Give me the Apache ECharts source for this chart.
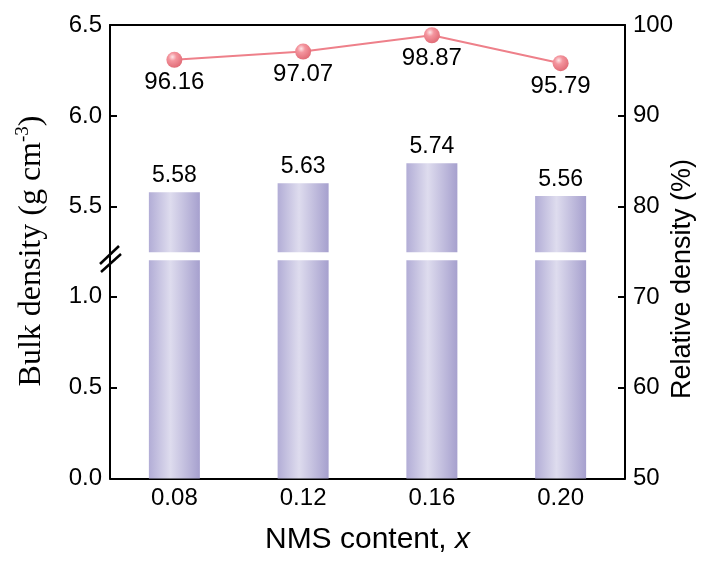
<!DOCTYPE html>
<html>
<head>
<meta charset="utf-8">
<script src="https://cdn.jsdelivr.net/npm/echarts@6/dist/echarts.min.js"></script>
<style>
  html, body { margin: 0; padding: 0; background: #ffffff; }
  #chart { width: 713px; height: 565px; }
</style>
</head>
<body>
<div id="chart"></div>
<script>
// NMS content (x) and the measured densities
const categories = ['0.08', '0.12', '0.16', '0.20'];
const bulkDensity = [5.58, 5.63, 5.74, 5.56];          // g cm^-3
const relativeDensity = [96.16, 97.07, 98.87, 95.79];  // %

// Broken left axis: upper and lower segments
const upperRange = [5.25, 6.5];
const lowerRange = [0, 1.2];
const upperTicks = [5.5, 6.0, 6.5];
const lowerTicks = [0.0, 0.5, 1.0];
const relRange = [50, 100];
const relInterval = 10;

// Plot frame geometry
const frame = { left: 110, right: 625, top: 25, bottom: 478.5 };
const breakGap = 8;
const unitPx = (frame.bottom - frame.top - breakGap) /
  ((upperRange[1] - upperRange[0]) + (lowerRange[1] - lowerRange[0]));
const upperH = (upperRange[1] - upperRange[0]) * unitPx;
const lowerH = (lowerRange[1] - lowerRange[0]) * unitPx;
const plotW = frame.right - frame.left;
const breakY = frame.top + upperH;

const SANS = 'Liberation Sans, Arial, sans-serif';
const SERIF = 'Liberation Serif, Times New Roman, serif';
const black = '#000000';
const axisLine = { show: true, lineStyle: { color: black, width: 2 } };

const barFill = {
  type: 'linear', x: 0, y: 0, x2: 1, y2: 0,
  colorStops: [
    { offset: 0, color: '#b2add6' },
    { offset: 0.42, color: '#dedcee' },
    { offset: 1, color: '#a6a0ce' }
  ]
};

const ballFill = {
  type: 'radial', x: 0.38, y: 0.32, r: 0.7,
  colorStops: [
    { offset: 0, color: '#fde6e8' },
    { offset: 0.35, color: '#f4959e' },
    { offset: 1, color: '#e06b76' }
  ]
};

const leftAxis = (gridIndex, range, ticks) => ({
  type: 'value', gridIndex, min: range[0], max: range[1],
  axisLine,
  axisTick: { show: true, inside: true, length: 7, customValues: ticks,
              lineStyle: { color: black, width: 2 } },
  axisLabel: { customValues: ticks, formatter: v => v.toFixed(1),
               fontSize: 24, fontFamily: SANS, color: black, margin: 8 },
  splitLine: { show: false }
});

const hiddenX = gridIndex => ({
  type: 'category', gridIndex, data: categories, show: false
});

const chart = echarts.init(document.getElementById('chart'), null, { renderer: 'canvas' });

chart.setOption({
  animation: false,
  backgroundColor: '#ffffff',
  grid: [
    { left: frame.left, width: plotW, top: frame.top, height: upperH },
    { left: frame.left, width: plotW, top: breakY + breakGap, height: lowerH },
    { left: frame.left, width: plotW, top: frame.top, height: frame.bottom - frame.top }
  ],
  xAxis: [
    hiddenX(0),
    hiddenX(1),
    {
      type: 'category', gridIndex: 2, data: categories, position: 'bottom',
      axisLine,
      axisTick: { show: true, inside: true, length: 7, alignWithLabel: true,
                  lineStyle: { color: black, width: 2 } },
      axisLabel: { fontSize: 24, fontFamily: SANS, color: black, margin: 8 },
      splitLine: { show: false }
    },
    {
      type: 'category', gridIndex: 2, data: categories, position: 'top',
      axisLine, axisTick: { show: false }, axisLabel: { show: false },
      splitLine: { show: false }
    }
  ],
  yAxis: [
    leftAxis(0, upperRange, upperTicks),
    leftAxis(1, lowerRange, lowerTicks),
    {
      type: 'value', gridIndex: 2, position: 'right',
      min: relRange[0], max: relRange[1], interval: relInterval,
      axisLine,
      axisTick: { show: true, inside: true, length: 7, lineStyle: { color: black, width: 2 } },
      axisLabel: { fontSize: 24, fontFamily: SANS, color: black, margin: 8 },
      splitLine: { show: false }
    }
  ],
  series: [
    {
      type: 'bar', xAxisIndex: 0, yAxisIndex: 0, data: bulkDensity,
      barWidth: 51, clip: true,
      itemStyle: { color: barFill },
      label: { show: true, position: 'top', distance: 5,
               formatter: p => p.value.toFixed(2),
               fontSize: 23, fontFamily: SANS, color: black }
    },
    {
      type: 'bar', xAxisIndex: 1, yAxisIndex: 1, data: bulkDensity,
      barWidth: 51, clip: true,
      itemStyle: { color: barFill }
    },
    {
      type: 'line', xAxisIndex: 2, yAxisIndex: 2, data: relativeDensity,
      symbol: 'circle', symbolSize: 16, z: 5,
      lineStyle: { color: '#ee808a', width: 2 },
      itemStyle: { color: ballFill, borderWidth: 0 },
      label: { show: true, position: 'bottom', distance: 3,
               formatter: p => p.value.toFixed(2),
               fontSize: 24, fontFamily: SANS, color: black }
    }
  ],
  graphic: [
    // axis break marks on the left axis
    { type: 'line', z: 10, shape: { x1: frame.left, y1: breakY - 2, x2: frame.left, y2: breakY + breakGap + 2 },
      style: { stroke: black, lineWidth: 2 } },
    { type: 'line', z: 11, shape: { x1: 100, y1: 264, x2: 119, y2: 246 },
      style: { stroke: black, lineWidth: 2.5 } },
    { type: 'line', z: 11, shape: { x1: 101, y1: 272, x2: 121, y2: 254 },
      style: { stroke: black, lineWidth: 2.5 } },
    // axis titles
    {
      type: 'text', x: 32, y: 251, rotation: Math.PI / 2,
      style: {
        text: 'Bulk density (g cm{sup|-3})',
        font: '32px ' + SERIF, fill: black,
        align: 'center', verticalAlign: 'middle',
        rich: { sup: { fontSize: 19, fontFamily: SERIF, fill: black, verticalAlign: 'top', lineHeight: 36, padding: [0, 0, 11, 0] } }
      }
    },
    {
      type: 'text', x: 683, y: 279, rotation: Math.PI / 2,
      style: {
        text: 'Relative density (%)',
        font: '27px ' + SANS, fill: black,
        align: 'center', verticalAlign: 'middle'
      }
    },
    {
      type: 'text', x: (frame.left + frame.right) / 2, y: 540,
      style: {
        text: 'NMS content, {i|x}',
        font: '30px ' + SANS, fill: black,
        align: 'center', verticalAlign: 'middle',
        rich: { i: { fontSize: 30, fontFamily: SANS, fontStyle: 'italic', fill: black } }
      }
    }
  ]
});
</script>
</body>
</html>
